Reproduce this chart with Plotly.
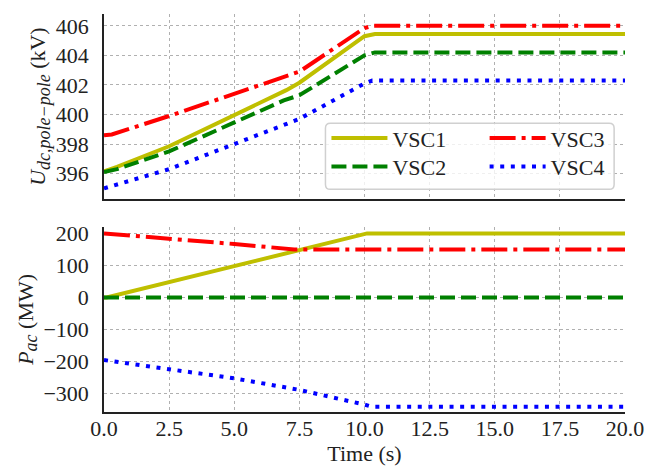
import plotly.graph_objects as go

# ---------------- data ----------------
names = ["VSC1", "VSC2", "VSC3", "VSC4"]

# DC pole-pole voltage (kV)
t_u1 = [0.0, 0.5, 2.5, 5.0, 7.0, 7.5, 10.0, 10.4, 20.0]
u_vsc1 = [396.15, 396.45, 397.85, 399.95, 401.65, 402.15, 405.3, 405.45, 405.45]
t_u2 = [0.0, 0.5, 2.5, 5.0, 6.9, 7.5, 10.0, 10.4, 20.0]
u_vsc2 = [396.1, 396.3, 397.5, 399.45, 400.95, 401.3, 404.0, 404.2, 404.2]
t_u3 = [0.0, 0.3, 2.5, 5.0, 7.5, 10.0, 10.3, 20.0]
u_vsc3 = [398.6, 398.65, 399.9, 401.4, 402.9, 405.85, 406.0, 406.0]
t_u4 = [0.0, 2.5, 5.0, 7.5, 10.0, 10.3, 20.0]
u_vsc4 = [395.0, 396.3, 398.0, 399.7, 402.1, 402.3, 402.3]

# AC active power (MW)
t_p1 = [0.0, 0.1, 10.1, 20.0]
p_vsc1 = [0, 0, 200, 200]
t_p2 = [0.0, 20.0]
p_vsc2 = [0, 0]
t_p3 = [0.0, 2.5, 5.0, 7.3, 20.0]
p_vsc3 = [200, 184.6, 167, 150, 150]
t_p4 = [0.0, 2.5, 5.0, 7.5, 8.75, 10.0, 10.3, 20.0]
p_vsc4 = [-195, -223, -252, -288, -310, -334, -341, -341]

x_ticks = [0, 2.5, 5, 7.5, 10, 12.5, 15, 17.5, 20]
u_ticks = [396, 398, 400, 402, 404, 406]
p_ticks = [-300, -200, -100, 0, 100, 200]

# ---------------- styles ----------------
colors = {"VSC1": "#bfbf00", "VSC2": "#008000", "VSC3": "#ff0000", "VSC4": "#0000ff"}
dashes = {"VSC1": "solid", "VSC2": "15px,6px", "VSC3": "26px,6px,4px,6px", "VSC4": "4px,6.6px"}
legend_of = {"VSC1": "legend", "VSC2": "legend2", "VSC3": "legend3", "VSC4": "legend4"}
LW = 4
FONT = "Liberation Serif, Times New Roman, serif"
FS = 22

u_data = {"VSC1": (t_u1, u_vsc1), "VSC2": (t_u2, u_vsc2), "VSC3": (t_u3, u_vsc3), "VSC4": (t_u4, u_vsc4)}
p_data = {"VSC1": (t_p1, p_vsc1), "VSC2": (t_p2, p_vsc2), "VSC3": (t_p3, p_vsc3), "VSC4": (t_p4, p_vsc4)}

fig = go.Figure()
for n in names:
    tx, ty = u_data[n]
    fig.add_trace(go.Scatter(x=tx, y=ty, mode="lines", name=n, legend=legend_of[n],
                             line=dict(color=colors[n], width=LW, dash=dashes[n]),
                             xaxis="x", yaxis="y", showlegend=True))
for n in names:
    tx, ty = p_data[n]
    fig.add_trace(go.Scatter(x=tx, y=ty, mode="lines", name=n,
                             line=dict(color=colors[n], width=LW, dash=dashes[n]),
                             xaxis="x2", yaxis="y2", showlegend=False))

base = dict(showgrid=True, gridcolor="#b0b0b0", gridwidth=1, griddash="dot",
            zeroline=False, showline=True, linecolor="#222", linewidth=1.5,
            tickcolor="rgba(0,0,0,0)",
            tickfont=dict(family=FONT, size=FS, color="#222"))
xgrid = dict(base, ticks="outside", ticklen=1, ticklabelstandoff=-5)
ygrid = dict(base, ticks="outside", ticklen=9)

# pixel -> paper (plot-area fraction) helpers for legend placement
PL, PR, PT, PB = 104, 631, 8, 412
W, H = PR - PL, PB - PT
def px_x(v):
    return (v - PL) / W
def px_y(v):
    return (PB - v) / H

leg_common = dict(orientation="v", yanchor="top", xanchor="left",
                  bgcolor="rgba(0,0,0,0)", borderwidth=0, itemwidth=56,
                  font=dict(family=FONT, size=FS, color="#222"))

# rounded legend frame
fx0, fx1, fy0, fy1, r = 328, 620, 119, 186, 5
frame = (f"M{px_x(fx0 + r)},{px_y(fy0)} L{px_x(fx1 - r)},{px_y(fy0)} "
         f"Q{px_x(fx1)},{px_y(fy0)} {px_x(fx1)},{px_y(fy0 + r)} "
         f"L{px_x(fx1)},{px_y(fy1 - r)} Q{px_x(fx1)},{px_y(fy1)} {px_x(fx1 - r)},{px_y(fy1)} "
         f"L{px_x(fx0 + r)},{px_y(fy1)} Q{px_x(fx0)},{px_y(fy1)} {px_x(fx0)},{px_y(fy1 - r)} "
         f"L{px_x(fx0)},{px_y(fy0 + r)} Q{px_x(fx0)},{px_y(fy0)} {px_x(fx0 + r)},{px_y(fy0)} Z")

row1, row2 = 136.7, 165.7
off = 24

u_title = "<i>U</i><sub><span style='font-size:18px'><i>dc,pole−pole</i></span></sub> (kV)"
p_title = "<i>P</i><sub><span style='font-size:18px'><i>ac</i></span></sub> (MW)"

fig.update_layout(
    width=652, height=473,
    margin=dict(l=PL, r=652 - PR, t=PT, b=473 - PB),
    paper_bgcolor="white", plot_bgcolor="white",
    font=dict(family=FONT, size=FS, color="#222"),
    xaxis=dict(domain=[0, 1], anchor="y", range=[0, 20], tickvals=x_ticks,
               showticklabels=False, matches="x2", **xgrid),
    yaxis=dict(domain=[0.5347, 1], anchor="x", range=[394.27, 406.8], tickvals=u_ticks,
               title=dict(text=u_title, font=dict(family=FONT, size=FS), standoff=4), **ygrid),
    xaxis2=dict(domain=[0, 1], anchor="y2", range=[0, 20], tickvals=x_ticks,
                tickformat=".1f",
                title=dict(text="Time (s)", font=dict(family=FONT, size=FS), standoff=0), **xgrid),
    yaxis2=dict(domain=[0, 0.4653], anchor="x2", range=[-357, 220.6], tickvals=p_ticks,
                title=dict(text=p_title, font=dict(family=FONT, size=FS), standoff=4), **ygrid),
    legend=dict(leg_common, x=px_x(329), y=px_y(row1 - off)),
    legend2=dict(leg_common, x=px_x(329), y=px_y(row2 - off)),
    legend3=dict(leg_common, x=px_x(489), y=px_y(row1 - off)),
    legend4=dict(leg_common, x=px_x(489), y=px_y(row2 - off)),
    shapes=[dict(type="path", xref="paper", yref="paper", layer="above", path=frame,
                 line=dict(color="#d0d0d0", width=1.5),
                 fillcolor="rgba(255,255,255,0.8)")],
)

fig.write_html("out.html", config={"displayModeBar": False},
               post_script="document.body.style.margin='0px';")
